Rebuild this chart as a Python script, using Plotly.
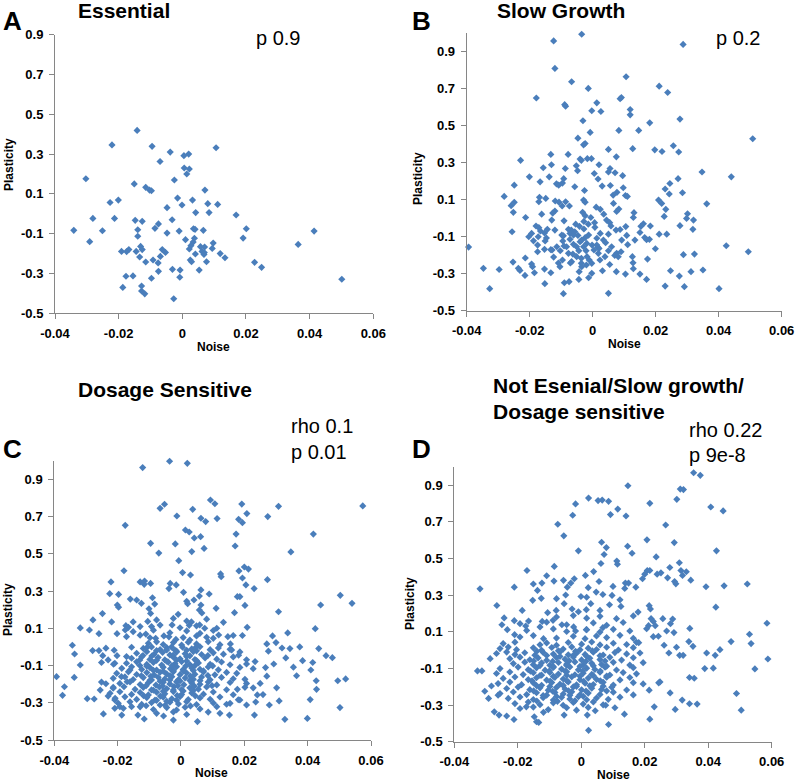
import plotly.graph_objects as go

# ---------------- data (Noise, Plasticity) ----------------
essential = [
(-0.0142,0.419),(-0.0221,0.346),(-0.0095,0.339),(0.0106,0.332),(-0.0038,0.310),(0.0005,0.292),(0.0020,0.300),
(-0.0070,0.263),(0.0006,0.230),(0.0022,0.225),(0.0014,0.200),(-0.0303,0.176),(-0.0025,0.170),(-0.0151,0.150),
(-0.0115,0.133),(-0.0103,0.119),(-0.0097,0.116),(0.0071,0.119),(-0.0015,0.079),(0.0032,0.069),(-0.0201,0.069),
(-0.0227,0.057),(0.0080,0.051),(0.0111,0.047),(-0.0001,0.044),(-0.0048,0.031),(0.0042,0.006),(0.0084,0.006),
(0.0169,-0.006),(-0.0281,-0.023),(-0.0213,-0.023),(-0.0148,-0.033),(-0.0126,-0.038),(-0.0032,-0.030),(-0.0075,-0.051),
(-0.0341,-0.083),(-0.0251,-0.085),(-0.0140,-0.080),(-0.0086,-0.073),(-0.0010,-0.087),(0.0035,-0.075),(0.0040,-0.078),
(0.0066,-0.083),(0.0201,-0.075),(0.0414,-0.087),(-0.0048,-0.097),(-0.0140,-0.113),(0.0010,-0.130),(0.0038,-0.123),
(0.0191,-0.122),(-0.0291,-0.140),(0.0097,-0.147),(0.0034,-0.142),(0.0027,-0.160),(0.0364,-0.154),(-0.0131,-0.164),
(0.0057,-0.165),(0.0070,-0.167),(-0.0126,-0.180),(-0.0063,-0.180),(0.0022,-0.177),(0.0094,-0.174),(-0.0168,-0.180),
(-0.0191,-0.189),(-0.0175,-0.190),(-0.0145,-0.189),(-0.0053,-0.194),(0.0062,-0.189),(0.0069,-0.195),(0.0119,-0.200),
(0.0041,-0.202),(0.0068,-0.204),(-0.0069,-0.214),(-0.0134,-0.217),(0.0134,-0.221),(-0.0092,-0.232),(0.0025,-0.232),
(0.0029,-0.241),(-0.0115,-0.242),(-0.0076,-0.247),(0.0076,-0.241),(0.0227,-0.244),(0.0249,-0.269),(-0.0031,-0.279),
(-0.0007,-0.283),(0.0053,-0.283),(-0.0075,-0.289),(-0.0177,-0.314),(-0.0155,-0.312),(-0.0008,-0.319),(-0.0097,-0.324),
(0.0501,-0.329),(-0.0187,-0.370),(-0.0128,-0.363),(-0.0128,-0.388),(-0.0118,-0.402),(-0.0027,-0.427),
]

slow_growth = [
(-0.0035,0.995),(-0.0124,0.959),(0.0287,0.940),(-0.0120,0.810),(-0.0067,0.738),(0.0106,0.765),(-0.0014,0.702),
(0.0211,0.714),(0.0238,0.680),(-0.0179,0.650),(0.0087,0.646),(0.0091,0.653),(-0.0089,0.614),(-0.0086,0.606),
(0.0013,0.624),(-0.0003,0.581),(0.0026,0.577),(0.0119,0.588),(0.0119,0.559),(-0.0031,0.527),(0.0277,0.536),
(0.0181,0.516),(0.0083,0.475),(0.0146,0.475),(-0.0008,0.464),(-0.0047,0.433),(0.0508,0.430),(-0.0024,0.404),
(-0.0029,0.397),(0.0256,0.392),(0.0050,0.372),(0.0127,0.376),(0.0197,0.370),(0.0220,0.361),(0.0273,0.358),
(-0.0133,0.345),(-0.0078,0.345),(0.0075,0.332),(-0.0040,0.320),(-0.0017,0.322),(-0.0004,0.322),(-0.0229,0.313),
(-0.0036,0.313),(-0.0131,0.289),(0.0020,0.289),(-0.0157,0.273),(-0.0087,0.269),(-0.0052,0.284),(-0.0048,0.257),
(0.0055,0.269),(0.0050,0.250),(0.0071,0.246),(0.0005,0.242),(0.0347,0.250),(0.0440,0.224),(-0.0201,0.224),
(-0.0138,0.224),(0.0095,0.230),(-0.0092,0.214),(0.0017,0.212),(0.0271,0.214),(-0.0167,0.197),(-0.0115,0.186),
(-0.0108,0.179),(-0.0096,0.190),(-0.0249,0.179),(-0.0057,0.170),(0.0056,0.177),(0.0030,0.174),(0.0097,0.165),
(0.0245,0.188),(0.0230,0.158),(-0.0026,0.150),(0.0077,0.140),(0.0065,0.125),(0.0104,0.123),(0.0110,0.118),
(0.0243,0.131),(0.0285,0.138),(-0.0281,0.118),(-0.0169,0.113),(-0.0149,0.107),(-0.0119,0.093),(-0.0107,0.087),
(-0.0086,0.089),(-0.0171,0.089),(-0.0029,0.098),(-0.0024,0.087),(0.0066,0.080),(0.0209,0.098),(0.0219,0.080),
(0.0362,0.078),(-0.0249,0.086),(-0.0259,0.068),(-0.0097,0.066),(-0.0074,0.066),(0.0011,0.060),(0.0024,0.048),
(0.0083,0.050),(0.0076,0.037),(0.0232,0.048),(-0.0120,0.039),(-0.0127,0.028),(-0.0252,0.032),(-0.0032,0.032),
(0.0131,0.030),(0.0301,0.024),(0.0035,0.022),(-0.0162,0.022),(-0.0024,0.014),(0.0227,0.010),(0.0129,0.004),
(-0.0213,0.004),(-0.0006,0.004),(0.0298,-0.001),(-0.0130,-0.010),(-0.0091,-0.014),(0.0044,-0.010),(0.0320,-0.010),
(-0.0028,-0.017),(0.0006,-0.024),(0.0161,-0.030),(-0.0054,-0.032),(-0.0014,-0.032),(0.0054,-0.024),(0.0058,-0.042),
(-0.0180,-0.042),(-0.0171,-0.051),(0.0153,-0.044),(0.0183,-0.042),(0.0277,-0.040),(-0.0042,-0.044),(0.0007,-0.049),
(0.0105,-0.045),(0.0318,-0.060),(0.0087,-0.061),(-0.0144,-0.060),(-0.0077,-0.060),(-0.0068,-0.064),(-0.0028,-0.058),
(0.0074,-0.064),(-0.0256,-0.073),(-0.0166,-0.069),(-0.0153,-0.080),(-0.0057,-0.073),(0.0150,-0.077),(0.0024,-0.082),
(0.0211,-0.086),(0.0235,-0.086),(-0.0194,-0.082),(0.0050,-0.086),(-0.0013,-0.091),(-0.0093,-0.095),(-0.0047,-0.093),
(-0.0203,-0.100),(-0.0173,-0.100),(-0.0147,-0.107),(-0.0024,-0.105),(0.0108,-0.093),(0.0165,-0.104),(-0.0072,-0.114),
(0.0013,-0.108),(-0.0188,-0.122),(-0.0151,-0.123),(0.0134,-0.118),(0.0171,-0.116),(0.0180,-0.114),(-0.0095,-0.123),
(-0.0040,-0.127),(0.0041,-0.132),(0.0111,-0.143),(-0.0061,-0.141),(-0.0002,-0.145),(-0.0175,-0.145),(-0.0091,-0.150),
(0.0424,-0.149),(-0.0394,-0.156),(-0.0029,-0.154),(0.0017,-0.158),(0.0020,-0.163),(-0.0153,-0.168),(-0.0133,-0.170),
(-0.0129,-0.172),(0.0199,-0.165),(-0.0103,-0.176),(-0.0044,-0.176),(-0.0021,-0.176),(0.0004,-0.172),(0.0050,-0.176),
(-0.0175,-0.181),(0.0494,-0.181),(0.0076,-0.190),(0.0090,-0.181),(0.0018,-0.190),(-0.0063,-0.194),(0.0323,-0.194),
(0.0288,-0.197),(-0.0124,-0.210),(0.0070,-0.201),(0.0081,-0.208),(0.0126,-0.208),(-0.0018,-0.208),(-0.0214,-0.215),
(-0.0036,-0.217),(0.0174,-0.221),(-0.0096,-0.226),(-0.0011,-0.226),(-0.0067,-0.235),(-0.0071,-0.242),(-0.0253,-0.237),
(-0.0109,-0.242),(-0.0194,-0.248),(0.0128,-0.241),(-0.0036,-0.244),(0.0054,-0.250),(-0.0020,-0.253),(-0.0191,-0.262),
(-0.0236,-0.271),(-0.0104,-0.262),(-0.0347,-0.271),(-0.0297,-0.277),(-0.0231,-0.282),(-0.0153,-0.275),(0.0031,-0.284),
(0.0129,-0.273),(0.0075,-0.289),(0.0247,-0.284),(0.0350,-0.280),(0.0312,-0.289),(-0.0185,-0.295),(-0.0133,-0.295),
(-0.0043,-0.289),(-0.0003,-0.298),(0.0150,-0.302),(0.0104,-0.302),(-0.0215,-0.309),(0.0275,-0.313),(-0.0013,-0.322),
(0.0171,-0.331),(-0.0044,-0.331),(-0.0075,-0.343),(-0.0090,-0.349),(-0.0152,-0.354),(0.0230,-0.367),(0.0291,-0.370),
(-0.0327,-0.381),(0.0401,-0.381),(-0.0093,-0.408),(0.0050,-0.406),
(-0.0072,-0.082),(-0.0051,-0.154),(-0.0035,-0.118),(-0.0019,-0.136),(-0.0077,-0.190),(-0.0051,-0.208),(-0.0035,-0.262),
(-0.0003,-0.244),(0.0023,-0.226),(0.0039,-0.208),(0.0060,-0.154),(0.0092,-0.118),(0.0034,-0.118),(0.0013,-0.145),
(-0.0061,-0.091),(-0.0114,-0.154),(-0.0083,-0.154),(-0.0098,-0.091),(-0.0120,-0.064),
]

dosage_sensitive = [
(-0.0036,0.997),(0.0020,0.986),(-0.0121,0.963),(0.0093,0.789),(0.0107,0.769),(0.0192,0.767),(-0.0052,0.766),
(-0.0066,0.744),(0.0308,0.755),(0.0574,0.757),(0.0037,0.739),(0.0208,0.716),(-0.0013,0.703),(0.0274,0.700),
(0.0063,0.691),(0.0114,0.689),(0.0182,0.685),(0.0078,0.673),(0.0194,0.667),(-0.0176,0.653),(0.0014,0.628),
(0.0026,0.617),(0.0418,0.606),(0.0174,0.606),(0.0062,0.592),(0.0042,0.585),(-0.0096,0.556),(-0.0018,0.553),
(0.0171,0.542),(0.0073,0.529),(-0.0070,0.504),(0.0034,0.512),(0.0347,0.510),(-0.0007,0.463),(-0.0180,0.409),
(0.0005,0.399),(0.0200,0.429),(0.0213,0.418),(0.0183,0.408),(0.0125,0.392),(0.0127,0.377),(0.0030,0.386),
(0.0194,0.370),(0.0273,0.361),(-0.0129,0.349),(-0.0115,0.354),(-0.0116,0.336),(-0.0096,0.341),(-0.0221,0.349),
(-0.0034,0.341),(-0.0015,0.333),(0.0205,0.333),(0.0231,0.313),(-0.0038,0.313),(0.0063,0.306),(0.0008,0.293),
(-0.0225,0.286),(-0.0197,0.282),(0.0089,0.284),(0.0503,0.277),(0.0058,0.273),(-0.0090,0.264),(0.0178,0.270),
(0.0186,0.270),(-0.0160,0.257),(-0.0140,0.252),(0.0041,0.252),(0.0540,0.234),(0.0441,0.225),(-0.0125,0.234),
(0.0018,0.245),(0.0021,0.232),(-0.0083,0.230),(0.0202,0.223),(-0.0201,0.225),(-0.0197,0.213),(0.0063,0.225),
(-0.0101,0.205),(0.0058,0.198),(0.0111,0.207),(0.0066,0.182),(0.0169,0.184),(0.0308,0.189),(-0.0248,0.179),
(-0.0096,0.180),(-0.0009,0.175),(-0.0278,0.145),(-0.0219,0.134),(-0.0151,0.134),(-0.0105,0.137),(0.0033,0.134),
(0.0134,0.132),(-0.0028,0.118),(0.0059,0.118),(-0.0318,0.102),(-0.0289,0.091),(-0.0174,0.114),(-0.0166,0.105),
(-0.0176,0.091),(0.0209,0.105),(0.0424,0.098),(-0.0093,0.109),(0.0026,0.116),(0.0075,0.100),(-0.0259,0.071),
(-0.0202,0.071),(-0.0111,0.069),(0.0337,0.075),(-0.0054,0.059),(0.0119,0.064),(0.0148,0.055),(0.0194,0.061),
(0.0289,0.059),(0.0300,0.023),(-0.0343,0.009),(0.0156,0.016),(0.0271,0.016),(0.0319,-0.006),(0.0344,-0.009),
(0.0375,0.000),(0.0435,-0.009),(-0.0279,-0.020),(-0.0259,-0.020),(-0.0237,-0.007),(-0.0211,-0.018),(-0.0336,-0.038),
(0.0160,-0.016),(0.0276,-0.023),(0.0331,-0.059),(-0.0247,-0.047),(-0.0202,-0.047),(0.0182,-0.045),(0.0458,-0.047),
(0.0478,-0.058),(0.0384,-0.074),(0.0416,-0.084),(-0.0318,-0.097),(-0.0213,-0.093),(-0.0251,-0.084),(0.0207,-0.092),
(0.0234,-0.079),(0.0267,-0.111),(0.0293,-0.092),(0.0355,-0.109),(0.0410,-0.124),(-0.0393,-0.160),(-0.0337,-0.164),
(0.0365,-0.155),(0.0495,-0.182),(0.0520,-0.172),(0.0427,-0.182),(0.0428,-0.228),(-0.0368,-0.214),(-0.0374,-0.260),
(-0.0296,-0.278),(-0.0274,-0.280),(-0.0251,-0.189),(-0.0237,-0.198),(-0.0255,-0.232),(-0.0245,-0.360),(-0.0187,-0.366),
(-0.0136,-0.366),(-0.0116,-0.387),(-0.0055,-0.371),(-0.0024,-0.393),(0.0052,-0.401),(0.0086,-0.350),(0.0123,-0.357),
(0.0153,-0.366),(0.0232,-0.366),(0.0279,-0.312),(0.0328,-0.389),(0.0310,-0.290),(0.0399,-0.384),(0.0408,-0.283),
(0.0502,-0.326),(0.0302,-0.220),(0.0271,-0.157),(0.0250,-0.196),(0.0241,-0.258),(0.0228,-0.220),(0.0259,-0.256),
(0.0236,-0.296),(0.0178,-0.228),(0.0202,-0.174),(0.0176,-0.142),(0.0207,-0.196),(0.0155,-0.303),(0.0186,-0.285),
(0.0207,-0.312),
(-0.0230,-0.264),(-0.0209,-0.285),(-0.0214,-0.217),(-0.0170,-0.187),(-0.0188,-0.160),(-0.0161,-0.124),(-0.0209,-0.088),
(-0.0172,-0.052),(-0.0130,-0.070),(-0.0156,-0.002),(-0.0209,-0.330),(-0.0193,-0.321),(-0.0156,-0.321),(-0.0230,-0.070),
(-0.0077,0.145),(-0.0024,0.153),(0.0018,0.139),(0.0081,0.149),
(-0.0129,0.109),(-0.0066,0.117),(-0.0003,0.103),(0.0049,0.113),(0.0113,0.100),
(-0.0151,0.082),(-0.0087,0.090),(-0.0035,0.076),(0.0018,0.086),(0.0060,0.073),(0.0102,0.088),
(-0.0172,0.055),(-0.0129,0.063),(-0.0098,0.049),(0.0049,0.059),(0.0102,0.046),(0.0165,0.061),
(-0.0080,0.046),(-0.0038,0.054),(-0.0016,0.040),(0.0007,0.050),(0.0028,0.037),(0.0081,0.052),
(-0.0103,0.019),(-0.0077,0.027),(-0.0056,0.013),(-0.0024,0.023),(0.0002,0.010),(0.0023,0.025),(0.0049,0.016),
(0.0086,0.028),(0.0123,0.012),
(-0.0119,-0.008),(-0.0093,0.000),(-0.0066,-0.014),(-0.0045,-0.004),(-0.0019,-0.017),(0.0005,-0.002),(0.0034,-0.011),
(0.0060,0.001),(0.0092,-0.015),(0.0118,-0.006),(0.0155,-0.013),
(-0.0140,-0.034),(-0.0108,-0.026),(-0.0085,-0.040),(-0.0058,-0.030),(-0.0035,-0.043),(-0.0014,-0.028),(0.0013,-0.037),
(0.0039,-0.025),(0.0065,-0.041),(0.0102,-0.032),(0.0134,-0.039),(0.0186,-0.027),
(-0.0156,-0.061),(-0.0124,-0.053),(-0.0098,-0.067),(-0.0072,-0.057),(-0.0051,-0.070),(-0.0024,-0.055),(-0.0003,-0.064),
(0.0018,-0.052),(0.0044,-0.068),(0.0076,-0.059),(0.0113,-0.066),(0.0165,-0.054),(0.0207,-0.069),
(-0.0172,-0.088),(-0.0140,-0.080),(-0.0108,-0.094),(-0.0087,-0.084),(-0.0061,-0.097),(-0.0040,-0.082),(-0.0019,-0.091),
(0.0002,-0.079),(0.0028,-0.095),(0.0055,-0.086),(0.0092,-0.093),(0.0128,-0.081),(0.0155,-0.096),
(-0.0187,-0.115),(-0.0156,-0.107),(-0.0124,-0.121),(-0.0098,-0.111),(-0.0077,-0.124),(-0.0056,-0.109),(-0.0033,-0.118),
(-0.0014,-0.106),(0.0007,-0.122),(0.0034,-0.113),(0.0060,-0.120),(0.0086,-0.108),(0.0118,-0.123),(0.0186,-0.110),
(0.0228,-0.117),
(-0.0203,-0.142),(-0.0166,-0.134),(-0.0140,-0.148),(-0.0108,-0.138),(-0.0085,-0.151),(-0.0066,-0.136),(-0.0045,-0.145),
(-0.0024,-0.133),(-0.0003,-0.149),(0.0018,-0.140),(0.0044,-0.147),(0.0071,-0.135),(0.0107,-0.150),(0.0144,-0.137),
(-0.0214,-0.169),(-0.0177,-0.161),(-0.0151,-0.175),(-0.0119,-0.165),(-0.0093,-0.178),(-0.0072,-0.163),(-0.0051,-0.172),
(-0.0029,-0.160),(-0.0008,-0.176),(0.0013,-0.167),(0.0039,-0.174),(0.0065,-0.162),(0.0092,-0.177),(0.0128,-0.164),
(0.0165,-0.171),
(-0.0193,-0.196),(-0.0161,-0.188),(-0.0129,-0.202),(-0.0103,-0.192),(-0.0079,-0.205),(-0.0056,-0.190),(-0.0035,-0.199),
(-0.0014,-0.187),(0.0009,-0.203),(0.0034,-0.194),(0.0060,-0.201),(0.0086,-0.189),(0.0113,-0.204),(0.0155,-0.191),
(-0.0214,-0.222),(-0.0180,-0.214),(-0.0145,-0.228),(-0.0119,-0.218),(-0.0093,-0.231),(-0.0068,-0.216),(-0.0045,-0.225),
(-0.0022,-0.213),(0.0002,-0.229),(0.0028,-0.220),(0.0055,-0.227),(0.0081,-0.215),(0.0144,-0.230),(0.0202,-0.217),
(-0.0224,-0.249),(-0.0193,-0.241),(-0.0156,-0.255),(-0.0129,-0.245),(-0.0103,-0.258),(-0.0077,-0.243),(-0.0051,-0.252),
(-0.0024,-0.240),(0.0002,-0.256),(0.0034,-0.247),(0.0071,-0.254),(0.0102,-0.242),(0.0165,-0.257),
(-0.0208,-0.276),(-0.0177,-0.268),(-0.0140,-0.282),(-0.0108,-0.272),(-0.0082,-0.285),(-0.0056,-0.270),(-0.0029,-0.279),
(-0.0003,-0.267),(0.0023,-0.283),(0.0060,-0.274),(0.0092,-0.281),(0.0123,-0.269),(0.0181,-0.284),
(-0.0198,-0.303),(-0.0161,-0.295),(-0.0124,-0.309),(-0.0093,-0.299),(-0.0066,-0.312),(-0.0035,-0.297),(-0.0008,-0.306),
(0.0018,-0.294),(0.0049,-0.310),(0.0102,-0.301),(0.0144,-0.308),
(-0.0182,-0.330),(-0.0129,-0.322),(-0.0087,-0.336),(-0.0045,-0.326),(-0.0014,-0.339),(0.0013,-0.324),(0.0060,-0.333),
(0.0113,-0.321),
(-0.0077,-0.357),(-0.0024,-0.349),(0.0018,-0.363),
(-0.0077,-0.020),(-0.0045,-0.016),(-0.0014,-0.023),(0.0018,-0.018),(0.0049,-0.021),
(-0.0077,-0.072),(-0.0045,-0.077),(-0.0014,-0.071),(0.0018,-0.076),(0.0049,-0.073),
(-0.0087,-0.126),(-0.0056,-0.131),(-0.0024,-0.125),(0.0007,-0.130),(0.0039,-0.127),(0.0071,-0.129),
(-0.0098,-0.179),(-0.0066,-0.184),(-0.0035,-0.178),(-0.0003,-0.183),(0.0028,-0.180),(0.0060,-0.182),
(-0.0087,-0.233),(-0.0056,-0.238),(-0.0024,-0.232),(0.0007,-0.237),(0.0039,-0.234),
(-0.0077,-0.287),(-0.0045,-0.292),(-0.0014,-0.286),
(-0.0108,-0.004),(-0.0030,-0.001),(0.0045,-0.006),
(-0.0120,-0.046),(-0.0092,-0.049),(-0.0025,-0.045),(0.0028,-0.048),(0.0085,-0.046),
(-0.0130,-0.100),(-0.0108,-0.104),(-0.0028,-0.101),(0.0015,-0.103),(0.0045,-0.099),(0.0100,-0.102),
(-0.0125,-0.155),(-0.0095,-0.158),(-0.0035,-0.156),(0.0030,-0.157),(0.0085,-0.154),
(-0.0110,-0.208),(-0.0058,-0.210),(-0.0010,-0.209),(0.0042,-0.211),(0.0098,-0.208),
(-0.0118,-0.262),(-0.0065,-0.264),(-0.0012,-0.261),(0.0045,-0.263),
(-0.0110,-0.316),(-0.0050,-0.314),(0.0030,-0.317),
]

not_essential = [
(0.0354,0.967),(0.0375,0.953),(0.0147,0.896),(0.0312,0.878),(0.0322,0.875),(0.0023,0.829),(0.0053,0.815),
(0.0066,0.818),(0.0086,0.811),(0.0301,0.822),(-0.0018,0.797),(0.0216,0.800),(0.0408,0.780),(0.0115,0.769),
(0.0447,0.759),(0.0092,0.739),(-0.0027,0.735),(0.0141,0.731),(-0.0074,0.686),(0.0266,0.682),(-0.0055,0.623),
(0.0207,0.601),(0.0064,0.588),(0.0293,0.586),(0.0079,0.559),(0.0146,0.566),(-0.0009,0.541),(0.0426,0.541),
(0.0160,0.528),(0.0072,0.521),(0.0236,0.508),(0.0112,0.485),(0.0062,0.472),(0.0309,0.476),(0.0114,0.468),
(-0.0085,0.456),(0.0279,0.450),(0.0208,0.434),(0.0216,0.434),(-0.0171,0.434),(0.0039,0.428),(0.0314,0.434),
(0.0331,0.427),(0.0200,0.414),(0.0239,0.414),(0.0013,0.407),(-0.0109,0.405),(0.0251,0.421),(0.0319,0.407),
(-0.0022,0.389),(0.0193,0.389),(0.0272,0.394),(0.0345,0.381),(-0.0086,0.376),(-0.0056,0.380),(0.0056,0.374),
(0.0294,0.374),(0.0298,0.361),(0.0523,0.360),(0.0149,0.365),(0.0139,0.365),(-0.0151,0.360),(-0.0124,0.365),
(-0.0033,0.365),(0.0100,0.347),(0.0450,0.350),(0.0393,0.345),(0.0172,0.343),(-0.0319,0.334),(-0.0211,0.343),
(-0.0044,0.343),(0.0022,0.340),(0.0137,0.336),(-0.0138,0.325),(0.0047,0.316),(-0.0126,0.282),(-0.0049,0.300),
(-0.0001,0.292),(0.0068,0.303),(0.0097,0.298),(-0.0266,0.243),(-0.0153,0.271),(-0.0054,0.253),(0.0030,0.253),
(0.0089,0.247),(0.0125,0.238),(0.0214,0.242),(0.0424,0.234),(0.0218,0.224),(-0.0079,0.216),(-0.0186,0.216),
(-0.0029,0.224),(-0.0009,0.209),(0.0016,0.220),(0.0059,0.216),(0.0179,0.207),(-0.0106,0.204),(-0.0243,0.175),
(0.0220,0.171),(0.0257,0.171),(0.0288,0.169),(-0.0211,0.160),(-0.0166,0.158),(-0.0123,0.156),(-0.0089,0.162),
(0.0227,0.156),(0.0585,0.146),(-0.0250,0.138),(-0.0061,0.138),(0.0281,0.144),(0.0212,0.133),(0.0233,0.133),
(-0.0175,0.131),(-0.0130,0.126),(-0.0024,0.126),(0.0068,0.122),(0.0342,0.118),(-0.0233,0.111),(-0.0018,0.104),
(0.0016,0.111),(0.0269,0.104),(0.0292,0.095),(0.0530,0.086),(-0.0210,0.084),(-0.0119,0.062),(0.0243,0.075),
(0.0339,0.046),(0.0472,0.046),(0.0535,0.035),(0.0181,0.040),(0.0261,0.026),(0.0300,0.015),(0.0352,0.020),
(0.0437,0.002),(-0.0287,-0.047),(0.0395,-0.016),(0.0422,-0.029),(0.0276,-0.016),(0.0310,-0.029),(0.0321,-0.029),
(0.0588,-0.049),(0.0389,-0.101),(0.0416,-0.099),(0.0547,-0.103),(-0.0327,-0.114),(-0.0313,-0.114),(0.0341,-0.150),
(0.0356,-0.154),(0.0248,-0.174),(0.0244,-0.179),(0.0214,-0.219),(0.0489,-0.237),(0.0280,-0.234),(-0.0304,-0.225),
(-0.0283,-0.196),(0.0318,-0.273),(0.0341,-0.293),(0.0365,-0.295),(0.0230,-0.310),(0.0504,-0.328),(0.0296,-0.324),
(0.0216,-0.377),(0.0136,-0.350),(0.0086,-0.406),(0.0023,-0.438),(-0.0054,-0.355),(-0.0274,-0.337),(-0.0259,-0.355),
(-0.0235,-0.360),(-0.0212,-0.379),(-0.0141,-0.391),(-0.0134,-0.395),(-0.0148,-0.364),(-0.0119,-0.340),(-0.0173,-0.310),
(0.0106,-0.315),(0.0077,-0.301),(0.0019,-0.355),(0.0044,-0.331),(-0.0292,-0.264),(-0.0262,-0.246),
(-0.0078,0.280),(0.0017,0.288),(0.0122,0.274),
(-0.0078,0.180),(-0.0025,0.188),(0.0017,0.174),(0.0059,0.184),(0.0111,0.171),(0.0164,0.186),
(-0.0193,0.144),(-0.0109,0.152),(-0.0046,0.138),(0.0038,0.148),(0.0080,0.135),(0.0132,0.150),
(-0.0172,0.107),(-0.0088,0.115),(-0.0046,0.101),(0.0017,0.111),(0.0059,0.098),(0.0101,0.113),(0.0153,0.104),(0.0206,0.116),
(-0.0193,0.071),(-0.0151,0.079),(-0.0078,0.065),(-0.0025,0.075),(0.0012,0.062),(0.0048,0.077),(0.0080,0.068),
(0.0122,0.080),(0.0164,0.064),(0.0227,0.073),
(-0.0246,0.035),(-0.0209,0.043),(-0.0130,0.029),(-0.0109,0.039),(-0.0078,0.026),(-0.0041,0.041),(0.0001,0.032),
(0.0033,0.044),(0.0059,0.028),(0.0101,0.037),(0.0143,0.030),(0.0174,0.042),
(-0.0256,0.008),(-0.0230,0.016),(-0.0204,0.002),(-0.0151,0.012),(-0.0125,-0.001),(-0.0093,0.014),(-0.0057,0.005),
(-0.0030,0.017),(-0.0004,0.001),(0.0022,0.010),(0.0048,0.003),(0.0080,0.015),(0.0117,0.000),(0.0164,0.013),
(-0.0267,-0.019),(-0.0235,-0.011),(-0.0209,-0.025),(-0.0178,-0.015),(-0.0146,-0.028),(-0.0120,-0.013),(-0.0088,-0.022),
(-0.0067,-0.010),(-0.0041,-0.026),(-0.0015,-0.017),(0.0012,-0.024),(0.0038,-0.012),(0.0069,-0.027),(0.0106,-0.014),
(0.0143,-0.021),(0.0185,-0.016),
(-0.0225,-0.047),(-0.0193,-0.039),(-0.0162,-0.053),(-0.0136,-0.043),(-0.0109,-0.056),(-0.0078,-0.041),(-0.0051,-0.050),
(-0.0025,-0.038),(0.0001,-0.054),(0.0027,-0.045),(0.0059,-0.052),(0.0090,-0.040),(0.0127,-0.055),(0.0164,-0.042),
(-0.0214,-0.074),(-0.0178,-0.066),(-0.0151,-0.080),(-0.0125,-0.070),(-0.0099,-0.083),(-0.0072,-0.068),(-0.0046,-0.077),
(-0.0020,-0.065),(0.0006,-0.081),(0.0033,-0.072),(0.0064,-0.079),(0.0101,-0.067),(0.0153,-0.082),(0.0195,-0.069),
(-0.0256,-0.101),(-0.0199,-0.093),(-0.0167,-0.107),(-0.0141,-0.097),(-0.0114,-0.110),(-0.0088,-0.095),(-0.0062,-0.104),
(-0.0036,-0.092),(-0.0009,-0.108),(0.0017,-0.099),(0.0043,-0.106),(0.0075,-0.094),(0.0111,-0.109),(0.0164,-0.096),
(-0.0267,-0.128),(-0.0225,-0.120),(-0.0183,-0.134),(-0.0151,-0.124),(-0.0125,-0.137),(-0.0099,-0.122),(-0.0072,-0.131),
(-0.0046,-0.119),(-0.0020,-0.135),(0.0006,-0.126),(0.0033,-0.133),(0.0059,-0.121),(0.0090,-0.136),(0.0132,-0.123),
(0.0174,-0.130),
(-0.0246,-0.155),(-0.0209,-0.147),(-0.0167,-0.161),(-0.0141,-0.151),(-0.0109,-0.164),(-0.0083,-0.149),(-0.0057,-0.158),
(-0.0030,-0.146),(-0.0004,-0.162),(0.0022,-0.153),(0.0048,-0.160),(0.0080,-0.148),(0.0122,-0.163),(0.0153,-0.150),
(-0.0262,-0.183),(-0.0225,-0.175),(-0.0188,-0.189),(-0.0151,-0.179),(-0.0125,-0.192),(-0.0093,-0.177),(-0.0067,-0.186),
(-0.0041,-0.174),(-0.0015,-0.190),(0.0012,-0.181),(0.0038,-0.188),(0.0069,-0.176),(0.0101,-0.191),(0.0164,-0.178),
(0.0195,-0.185),
(-0.0235,-0.210),(-0.0199,-0.202),(-0.0162,-0.216),(-0.0130,-0.206),(-0.0104,-0.219),(-0.0078,-0.204),(-0.0051,-0.213),
(-0.0025,-0.201),(0.0001,-0.217),(0.0033,-0.208),(0.0064,-0.215),(0.0096,-0.203),(0.0143,-0.218),
(-0.0256,-0.237),(-0.0214,-0.229),(-0.0172,-0.243),(-0.0141,-0.233),(-0.0109,-0.246),(-0.0083,-0.231),(-0.0057,-0.240),
(-0.0030,-0.228),(-0.0004,-0.244),(0.0022,-0.235),(0.0059,-0.242),(0.0101,-0.230),(0.0164,-0.245),
(-0.0230,-0.264),(-0.0193,-0.256),(-0.0151,-0.270),(-0.0120,-0.260),(-0.0088,-0.273),(-0.0062,-0.258),(-0.0036,-0.267),
(-0.0009,-0.255),(0.0017,-0.271),(0.0048,-0.262),(0.0085,-0.269),(0.0122,-0.257),
(-0.0209,-0.292),(-0.0167,-0.284),(-0.0130,-0.298),(-0.0088,-0.288),(-0.0057,-0.301),(-0.0025,-0.286),(0.0006,-0.295),
(0.0038,-0.283),(0.0069,-0.299),
(-0.0193,-0.319),(-0.0151,-0.311),(-0.0104,-0.325),(-0.0046,-0.315),(-0.0015,-0.328),(0.0022,-0.313),
(-0.0109,-0.030),(-0.0067,-0.035),(-0.0025,-0.029),(0.0017,-0.034),(0.0059,-0.031),
(-0.0130,-0.085),(-0.0088,-0.090),(-0.0046,-0.084),(-0.0004,-0.089),(0.0038,-0.086),(0.0080,-0.088),
(-0.0130,-0.139),(-0.0088,-0.144),(-0.0046,-0.138),(-0.0004,-0.143),(0.0038,-0.140),(0.0080,-0.142),
(-0.0141,-0.194),(-0.0099,-0.199),(-0.0057,-0.193),(-0.0015,-0.198),(0.0027,-0.195),(0.0069,-0.197),
(-0.0120,-0.248),(-0.0078,-0.253),(-0.0036,-0.247),(0.0006,-0.252),
(-0.0140,-0.006),(-0.0072,-0.004),(-0.0018,-0.007),(0.0035,-0.005),
(-0.0150,-0.060),(-0.0090,-0.062),(-0.0038,-0.059),(0.0015,-0.061),(0.0075,-0.060),
(-0.0160,-0.115),(-0.0100,-0.113),(-0.0050,-0.116),(0.0005,-0.114),(0.0060,-0.115),
(-0.0155,-0.168),(-0.0098,-0.170),(-0.0045,-0.169),(0.0008,-0.171),(0.0060,-0.168),
(-0.0150,-0.223),(-0.0090,-0.225),(-0.0040,-0.222),(0.0015,-0.224),(0.0080,-0.223),
(-0.0140,-0.278),(-0.0075,-0.280),(-0.0020,-0.277),
]

x_ticks = [-0.04, -0.02, 0, 0.02, 0.04, 0.06]
x_tick_text = ["-0.04", "-0.02", "0", "0.02", "0.04", "0.06"]
y_ticks = [-0.5, -0.3, -0.1, 0.1, 0.3, 0.5, 0.7, 0.9]
y_tick_text = ["-0.5", "-0.3", "-0.1", "0.1", "0.3", "0.5", "0.7", "0.9"]

# ---------------- layout geometry (pixels) ----------------
W, H = 797, 782
def px(v): return v / W
def py(v): return 1 - v / H

panels = [
    dict(data=essential,        xd=(55.0, 373.3),  yd=(34.7, 313.3),  ymax=0.9),
    dict(data=slow_growth,      xd=(466.7, 781.7), yd=(33.3, 310.7),  ymax=1.0),
    dict(data=dosage_sensitive, xd=(54.3, 371.0),  yd=(460.7, 740.0), ymax=1.0),
    dict(data=not_essential,    xd=(454.3, 771.7), yd=(466.7, 741.7), ymax=1.0),
]

FONT = "Liberation Sans, Arial, sans-serif"
BLUE = "#4A7EBB"
AXIS = "#868686"

fig = go.Figure()
layout = {}
for i, p in enumerate(panels, start=1):
    xs = [d[0] for d in p["data"]]
    ys = [d[1] for d in p["data"]]
    xa = "x" if i == 1 else f"x{i}"
    ya = "y" if i == 1 else f"y{i}"
    fig.add_trace(go.Scatter(
        x=xs, y=ys, mode="markers", xaxis=xa, yaxis=ya, cliponaxis=False,
        marker=dict(symbol="diamond", size=5.5, color=BLUE, line=dict(width=0)),
        showlegend=False, hoverinfo="skip"))
    axcommon = dict(showline=True, linecolor=AXIS, linewidth=1, ticks="outside",
                    ticklen=5, tickwidth=1, tickcolor=AXIS, showgrid=False, zeroline=False,
                    automargin=False,
                    tickfont=dict(family=FONT, size=13, color="#000", weight="bold"),
                    ticklabelstandoff=3)
    layout["xaxis" if i == 1 else f"xaxis{i}"] = dict(
        axcommon, domain=[px(p["xd"][0]), px(p["xd"][1])], range=[-0.04, 0.06],
        tickvals=x_ticks, ticktext=x_tick_text, anchor=ya)
    layout["yaxis" if i == 1 else f"yaxis{i}"] = dict(
        axcommon, domain=[py(p["yd"][1]), py(p["yd"][0])], range=[-0.5, p["ymax"]],
        tickvals=y_ticks, ticktext=y_tick_text, anchor=xa)

def ann(text, x, y, size, bold=False, xanchor="left", angle=0):
    return dict(text=text, x=px(x), y=py(y), xref="paper", yref="paper",
                xanchor=xanchor, yanchor="middle", showarrow=False, textangle=angle,
                font=dict(family=FONT, size=size, color="#000",
                          weight="bold" if bold else "normal"))

annotations = [
    ann("A", 1, 21, 26, True), ann("Essential", 76, 11, 21, True), ann("p 0.9", 254, 38, 20),
    ann("B", 410, 21, 26, True), ann("Slow Growth", 495, 11, 21, True), ann("p 0.2", 714, 38, 20),
    ann("C", 1, 449, 26, True), ann("Dosage Sensitive", 76, 389, 21, True),
    ann("rho 0.1", 289, 426, 20), ann("p 0.01", 289, 452, 20),
    ann("D", 410, 449, 26, True), ann("Not Esenial/Slow growth/", 491, 385, 21, True),
    ann("Dosage sensitive", 491, 412, 21, True),
    ann("rho 0.22", 687, 430, 20), ann("p 9e-8", 687, 455, 20),
    ann("Plasticity", 9, 165, 12, True, "center", -90), ann("Noise", 213, 347, 12, True, "center"),
    ann("Plasticity", 418, 179, 12, True, "center", -90), ann("Noise", 624, 344, 12, True, "center"),
    ann("Plasticity", 8, 610, 12, True, "center", -90), ann("Noise", 212, 773, 12, True, "center"),
    ann("Plasticity", 410, 604, 12, True, "center", -90), ann("Noise", 613, 775, 12, True, "center"),
]

fig.update_layout(template="none", width=W, height=H, autosize=False,
                  margin=dict(l=0, r=0, t=0, b=0, pad=0),
                  paper_bgcolor="white", plot_bgcolor="white", annotations=annotations,
                  showlegend=False, **layout)

fig.write_html("out.html", config={"displayModeBar": False},
               post_script="document.body.style.margin='0';document.body.style.overflow='hidden';")
